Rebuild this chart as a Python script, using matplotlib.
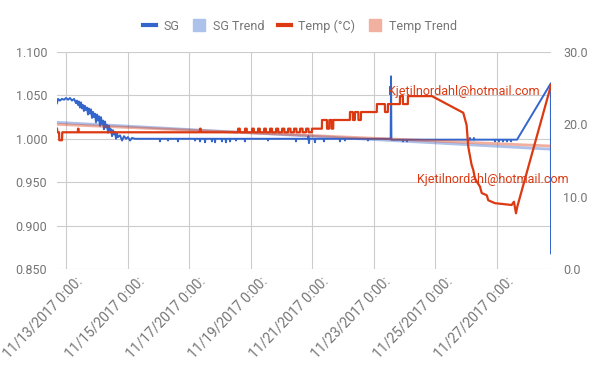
import matplotlib.pyplot as plt
import matplotlib.transforms as mtransforms
from matplotlib.lines import Line2D
import numpy as np
import pandas as pd

plt.rcParams["font.family"] = "Roboto"

# readings are logged as hours after the first one
START = pd.Timestamp("2017-11-12 17:00")

sg_hours = [
    # fermentation start, SG dropping
    0.0, 0.8, 2.3, 3.9, 5.5, 7.0, 8.6, 10.1, 11.7, 13.3, 14.8, 15.6, 16.4, 17.1, 17.9,
    18.7, 19.5, 20.3, 21.0, 21.8, 22.6, 23.4, 24.2, 24.9, 25.7, 26.5, 27.3, 28.1, 28.8,
    29.6, 30.4, 31.2, 32.0, 32.7, 33.5, 34.3, 35.1, 35.9, 36.6, 37.4, 38.2, 39.0, 39.8,
    40.5, 41.3, 42.1, 42.9, 43.6, 44.4, 45.2, 46.0, 46.8, 47.5, 49.1, 50.7, 52.2, 53.8,
    55.3, 56.9, 58.5, 60.8,
    # flat around 1.000
    80.0, 80.3, 80.6, 86.2, 86.5, 86.8, 94.0, 94.3, 94.6, 107.3, 107.6, 107.9,
    111.2, 111.5, 111.8, 115.1, 115.4, 115.7, 120.5, 120.8, 121.1, 122.9, 123.2, 123.5,
    128.3, 128.6, 128.9, 131.4, 131.7, 132.0, 134.6, 134.9, 135.2, 139.2, 139.5, 139.8,
    146.2, 146.5, 146.8, 164.2, 164.5, 164.8, 186.0, 186.3, 186.6,
    195.6, 196.0, 196.4, 196.8, 200.8, 201.1, 201.4, 207.8, 208.1, 208.4,
    220.3, 220.6, 220.9, 224.2, 224.5, 224.8, 242.1, 242.4, 242.7,
    260.1, 260.4, 260.7,
    269.4, 269.7, 270.0, 272.5, 272.8, 273.1,
    321.6, 321.9, 322.2, 324.7, 325.0, 325.3,
    341.1, 341.4, 341.7, 344.2, 344.5, 344.8, 347.4, 347.7, 348.0,
    350.5, 350.8, 351.1, 353.6, 353.9, 354.2,
    358.6, 385.0, 385.1,
]
sg_values = [
    1.041, 1.046, 1.044, 1.046, 1.045, 1.047, 1.045, 1.047, 1.044, 1.046, 1.041, 1.044, 1.039, 1.043, 1.036,
    1.042, 1.035, 1.039, 1.032, 1.038, 1.033, 1.036, 1.028, 1.035, 1.029, 1.034, 1.024, 1.031, 1.025,
    1.029, 1.019, 1.028, 1.021, 1.026, 1.015, 1.025, 1.017, 1.021, 1.011, 1.020, 1.013, 1.016, 1.007,
    1.015, 1.009, 1.011, 1.003, 1.010, 1.005, 1.008, 1.000, 1.006, 1.002, 1.004, 0.998, 1.003, 1.000,
    1.002, 0.998, 1.001, 1.000,
    1.000, 0.997, 1.000, 1.000, 0.998, 1.000, 1.000, 0.997, 1.000, 1.000, 0.998, 1.000,
    1.000, 0.997, 1.000, 1.000, 0.996, 1.000, 1.000, 0.997, 1.000, 1.000, 0.996, 1.000,
    1.000, 0.997, 1.000, 1.000, 0.996, 1.000, 1.000, 0.997, 1.000, 1.000, 0.998, 1.000,
    1.000, 0.997, 1.000, 1.000, 0.998, 1.000, 1.000, 0.997, 1.000,
    1.000, 1.003, 0.995, 1.000, 1.000, 0.996, 1.000, 1.000, 0.997, 1.000,
    1.000, 0.997, 1.000, 1.000, 0.998, 1.000, 1.000, 0.998, 1.000,
    1.000, 1.072, 0.999,
    0.999, 0.997, 0.999, 0.999, 0.997, 0.999,
    0.999, 1.001, 0.999, 0.999, 1.001, 0.999,
    0.999, 0.997, 0.999, 0.999, 0.997, 0.999, 0.999, 0.997, 0.999,
    0.999, 0.997, 0.999, 0.999, 0.997, 0.999,
    0.999, 1.064, 0.868,
]

temp_hours = [
    0.0, 0.4, 1.6, 1.8, 3.9, 4.1, 16.2, 16.4, 16.8, 16.9,
    111.3, 111.5, 112.0, 112.2,
    141.1, 141.2, 142.5, 142.6, 146.5, 146.6, 147.9, 148.0,
    152.0, 152.1, 153.4, 153.5, 156.7, 156.8, 158.1, 158.2,
    161.4, 161.5, 162.8, 162.9, 166.0, 166.1, 167.6, 167.7,
    170.7, 170.8, 172.4, 172.5, 175.4, 175.5, 177.2, 177.3,
    180.1, 180.2, 182.0, 182.1, 184.7, 184.8, 186.6, 186.7,
    189.4, 189.5, 191.4, 191.5, 194.1, 194.2, 196.0, 196.1,
    198.7, 198.8,
    206.5, 206.6, 210.4, 210.5, 212.2, 212.3, 214.0, 214.1, 215.3, 215.4,
    228.3, 228.4, 230.6, 230.7, 232.2, 232.3, 234.9, 235.0, 236.9, 237.0,
    249.3, 249.4, 255.6, 255.7, 257.9, 258.0,
    267.3, 267.4, 269.6, 269.7, 273.5, 273.6, 292.3,
    316.7, 319.3, 320.6, 323.2, 324.5, 325.8, 329.7, 331.1, 335.0, 336.2,
    341.4, 354.4, 356.2, 357.8, 358.8, 385.1,
]
temp_values = [
    19.4, 18.9, 18.9, 17.8, 17.8, 18.9, 18.9, 19.4, 19.4, 18.9,
    18.9, 19.4, 19.4, 18.9,
    18.9, 19.4, 19.4, 18.9, 18.9, 19.4, 19.4, 18.9,
    18.9, 19.4, 19.4, 18.9, 18.9, 19.4, 19.4, 18.9,
    18.9, 19.4, 19.4, 18.9, 18.9, 19.4, 19.4, 18.9,
    18.9, 19.4, 19.4, 18.9, 18.9, 19.4, 19.4, 18.9,
    18.9, 19.4, 19.4, 18.9, 18.9, 19.4, 19.4, 18.9,
    18.9, 19.4, 19.4, 18.9, 18.9, 19.4, 19.4, 18.9,
    18.9, 19.4,
    19.4, 20.6, 20.6, 19.4, 19.4, 20.6, 20.6, 19.4, 19.4, 20.6,
    20.6, 21.7, 21.7, 20.6, 20.6, 21.7, 21.7, 20.6, 20.6, 21.7,
    21.7, 22.8, 22.8, 21.7, 21.7, 22.8,
    22.8, 23.9, 23.9, 22.8, 22.8, 23.9, 23.9,
    21.6, 19.9, 16.9, 14.4, 13.7, 12.5, 11.4, 10.5, 10.2, 9.5,
    9.1, 8.85, 9.3, 7.7, 8.6, 25.4,
]

trend_hours = [0.0, 385.1]
sg_trend = [1.019, 0.988]
temp_trend = [20.0, 17.0]

xtick_dates = ["2017-11-13", "2017-11-15", "2017-11-17", "2017-11-19",
               "2017-11-21", "2017-11-23", "2017-11-25", "2017-11-27"]
xtick_labels = ["11/13/2017 0:00:", "11/15/2017 0:00:", "11/17/2017 0:00:", "11/19/2017 0:00:",
                "11/21/2017 0:00:", "11/23/2017 0:00:", "11/25/2017 0:00:", "11/27/2017 0:00:"]
sg_ticks = [0.850, 0.900, 0.950, 1.000, 1.050, 1.100]
temp_ticks = [0, 10, 20, 30]

note_text = "Kjetilnordahl@hotmail.com"
note_hours = [317.3, 339.9]
note_sg = [1.054, 0.9534]

BLUE = "#3366cc"
RED = "#dc3912"
GREY = "#757575"


def to_time(hours):
    return (START + pd.to_timedelta(np.asarray(hours), unit="h")).values


def main():
    fig = plt.figure(figsize=(6, 3.71), dpi=100)
    ax = fig.add_axes([57 / 600, 1 - 269 / 371, 494 / 600, 217 / 371])
    ax2 = ax.twinx()

    ax.plot(to_time(trend_hours), sg_trend, color=BLUE, alpha=0.4, lw=2.0, solid_capstyle="butt")
    ax.plot(to_time(sg_hours), sg_values, color=BLUE, lw=1.4)
    ax2.plot(to_time(trend_hours), temp_trend, color=RED, alpha=0.4, lw=2.0, solid_capstyle="butt")
    ax2.plot(to_time(temp_hours), temp_values, color=RED, lw=1.6)

    for h, v in zip(note_hours, note_sg):
        ax.text(to_time([h])[0], v, note_text, color=RED, fontsize=9,
                ha="center", va="center", zorder=10)

    ax.set_xlim(to_time(trend_hours))
    ax.set_ylim(0.85, 1.10)
    ax2.set_ylim(0, 30)

    # slanted date labels, drawn by hand so they can sit a bit right of the gridline
    tick_times = pd.to_datetime(xtick_dates).values
    ax.set_xticks(tick_times)
    ax.set_xticklabels([])
    shift = mtransforms.ScaledTranslation(9 / 100, -5 / 100, fig.dpi_scale_trans)
    for t, lbl in zip(tick_times, xtick_labels):
        ax.text(t, 0, lbl, transform=ax.get_xaxis_transform() + shift,
                rotation=46, ha="right", va="top", rotation_mode="anchor",
                fontsize=10, color=GREY, clip_on=False)

    ax.set_yticks(sg_ticks)
    ax.set_yticklabels([f"{v:.3f}" for v in sg_ticks])
    ax2.set_yticks(temp_ticks)
    ax2.set_yticklabels([f"{v:.1f}" for v in temp_ticks])

    for a in (ax, ax2):
        for s in a.spines.values():
            s.set_visible(False)
        a.tick_params(length=0, colors=GREY, labelsize=9)
    ax.tick_params(axis="y", pad=7)
    ax2.tick_params(axis="y", pad=9)
    ax.grid(True, color="#cccccc", lw=0.8)
    ax.set_axisbelow(True)

    handles = [
        Line2D([], [], color=BLUE, lw=3),
        Line2D([], [], marker="s", ls="", ms=9, color="#adc2eb"),
        Line2D([], [], color=RED, lw=3),
        Line2D([], [], marker="s", ls="", ms=9, color="#f1b0a0"),
    ]
    fig.legend(handles, ["SG", "SG Trend", "Temp (°C)", "Temp Trend"],
               loc="center", bbox_to_anchor=(0.5, 1 - 26 / 371), ncol=4, frameon=False,
               fontsize=9, labelcolor=GREY, handlelength=1.0, handletextpad=0.6,
               columnspacing=1.1)

    fig.savefig("out.png", dpi=100)


if __name__ == "__main__":
    main()
